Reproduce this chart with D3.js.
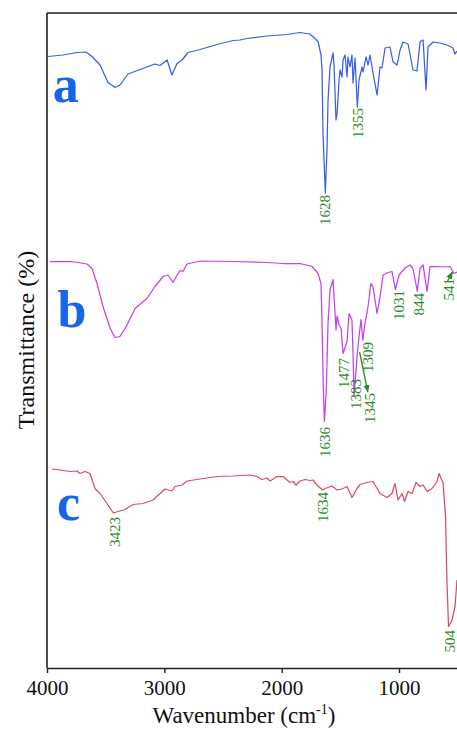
<!DOCTYPE html>
<html><head><meta charset="utf-8">
<script src="https://cdn.jsdelivr.net/npm/d3@7"></script>
<style>html,body{margin:0;padding:0;background:#fff;overflow:hidden}</style>
</head><body><svg id="c" width="457" height="730"></svg>
<script>
// ---- data (wavenumber cm-1, transmittance in arbitrary stacked units) ----
const xTicks = [4000, 3000, 2000, 1000];
const seriesNames = ["a", "b", "c"];
const specA = [[3991,122.3],[3864,122.6],[3744,123.1],[3668,123.2],[3616,122.3],[3548,120.6],[3480,117.1],[3420,116.1],[3378,116.6],[3310,118.8],[3207,119.7],[3080,120.8],[3037,120.5],[2977,121.6],[2935,118.6],[2892,120.9],[2849,121.6],[2798,123.1],[2696,123.7],[2551,124.7],[2415,125.5],[2355,125.6],[2295,125.9],[2125,126.4],[1955,126.7],[1844,127.1],[1759,126.8],[1690,125.3],[1665,122.6],[1656,119.6],[1648,107],[1628,95],[1614,103.6],[1605,113.6],[1588,120.2],[1562,123],[1554,120.6],[1537,109.6],[1528,111],[1511,117.6],[1503,119.6],[1486,118.2],[1477,121.6],[1460,122.6],[1443,118.2],[1435,122.2],[1418,120.2],[1401,122.6],[1392,117],[1375,122],[1355,112.2],[1341,117.6],[1315,120.2],[1307,119.2],[1281,122.2],[1264,120.6],[1247,122.6],[1222,119],[1187,114.6],[1162,120.2],[1145,120],[1119,124],[1077,124.2],[1051,121.2],[1017,120.6],[991,123.6],[966,125.2],[923,124.8],[881,119.6],[847,119.4],[821,125.2],[795,125.6],[770,115.6],[753,124.2],[710,125.2],[651,125],[591,124.6],[540,124],[523,122.8],[506,123.4]];
const specB = [[3974,81.3],[3804,81.3],[3736,81.1],[3659,80.8],[3616,79.9],[3574,76.9],[3523,72.3],[3463,68],[3420,66.1],[3378,66.3],[3318,68.6],[3250,71.9],[3148,73.9],[3080,76.3],[3011,78.3],[2969,78.6],[2926,77.1],[2892,78.6],[2866,79.5],[2841,79.3],[2807,80.8],[2696,81.4],[2415,81.3],[2125,81.1],[1989,80.9],[1844,80.9],[1741,80.3],[1690,78.9],[1665,76.9],[1656,69],[1645,55.6],[1636,49.3],[1620,55.6],[1605,69],[1588,75.6],[1562,77.7],[1554,74.3],[1537,67.6],[1528,70.4],[1511,68.6],[1494,68],[1477,62.9],[1443,65.3],[1426,70.9],[1401,69.6],[1392,62.9],[1383,54.3],[1358,62.3],[1341,66.3],[1324,69.7],[1309,65.6],[1290,68.9],[1264,72.3],[1239,76.9],[1222,76.3],[1187,70.9],[1162,74.3],[1136,78.6],[1094,79.1],[1060,79.3],[1031,75.7],[1000,78.6],[949,80],[906,80.6],[881,79.9],[844,75.3],[821,79.9],[795,80.6],[761,75.3],[736,80.3],[676,80.3],[625,80.2],[565,80.3],[531,78.9],[506,79.2]];
const specC = [[3957,39.8],[3889,39.6],[3804,39.3],[3744,39.4],[3719,38.9],[3676,39.3],[3634,38.9],[3591,35.9],[3548,34.9],[3489,32.9],[3437,31.1],[3423,31.1],[3335,31.7],[3267,32.7],[3182,32.9],[3097,33.6],[2994,35.8],[2935,35.4],[2909,36.3],[2849,36.6],[2807,37.4],[2696,37.8],[2551,38.3],[2415,38.4],[2270,38.6],[2210,38.3],[2168,37.7],[2125,38],[2099,37.4],[2040,38.3],[1989,38.3],[1929,37.1],[1903,37.3],[1878,36.6],[1844,37.4],[1801,37.7],[1759,37.5],[1733,37.6],[1699,36.6],[1652,35.6],[1631,35.9],[1571,36.4],[1528,35.6],[1486,35.8],[1443,36.3],[1401,34.1],[1358,35.9],[1332,36.7],[1273,37.1],[1222,37.3],[1162,34.9],[1102,34.1],[1060,34.9],[1034,36.9],[1009,33.6],[974,34.9],[953,33.3],[923,35.3],[889,34.9],[855,37.1],[821,36.3],[795,36.6],[761,35.3],[719,35.9],[676,37.3],[659,38.9],[625,37],[604,30.3],[591,16.9],[578,8.3],[548,9.6],[523,12.3],[506,17.6]];
// peak labels: text, label wavenumber, label top value
const labelText = ["1628","1355","1636","1477","1383","1345","1309","1031","844","541","3423","1634","504"];
const labelWn   = [1631, 1352, 1631, 1475, 1371, 1247, 1267, 1006, 836, 580, 3420, 1648, 565];
const labelTop  = [94.6, 112, 48.2, 62, 57.8, 55, 65.2, 75.6, 75, 78, 30.2, 35.2, 7.6];
// arrows: [from wn, from T, to wn, to T]
const arrows = [[1336, 63.2, 1266, 55.2], [586, 77.4, 545, 79.2]];
const seriesLetterWn = [3950, 3910, 3915];
const seriesLetterT  = [113.2, 68.2, 29.6];

// ---- drawing ----
const svg = d3.select("#c");
const x = d3.scaleLinear().domain([4000, 506]).range([47, 457]);
const y = d3.scaleLinear().domain([0, 131]).range([668, 13]);
const serif = "Liberation Serif";
const green = "#2a8c2a";

svg.append("defs").append("marker").attr("id","ah").attr("viewBox","0 0 10 10")
  .attr("refX",9).attr("refY",5).attr("markerWidth",6).attr("markerHeight",6).attr("orient","auto")
  .append("path").attr("d","M0,1 L10,5 L0,9 Z").attr("fill",green);

const line = d3.line().x(d => x(d[0])).y(d => y(d[1]));
const colors = ["#3b5ee8", "#c441ee", "#df4a63"];
[specA, specB, specC].forEach((s, i) => {
  svg.append("path").datum(s).attr("d", line).attr("fill","none")
    .attr("stroke", colors[i]).attr("stroke-width", 1.25).attr("stroke-linejoin","round");
});

// frame
svg.append("line").attr("x1", x(4000)).attr("x2", 457).attr("y1", y(131)).attr("y2", y(131))
  .attr("stroke","#222").attr("stroke-width",1.6);
svg.append("line").attr("x1", x(4000)).attr("x2", x(4000)).attr("y1", y(131)).attr("y2", y(0))
  .attr("stroke","#222").attr("stroke-width",1.6);

const ax = svg.append("g").attr("transform", `translate(0,${y(0)})`)
  .call(d3.axisBottom(x).tickValues(xTicks).tickFormat(d3.format("d")).tickSize(5).tickSizeOuter(0).tickPadding(7));
ax.attr("font-family", serif).attr("font-size", 21);
ax.select(".domain").attr("stroke","#222").attr("stroke-width",1.6);
ax.selectAll(".tick line").attr("stroke","#222").attr("stroke-width",1.4);
ax.selectAll(".tick text").attr("font-family", serif).attr("font-size", 21).attr("fill","#111");

// axis titles
const xt = svg.append("text").attr("x", 244).attr("y", 723).attr("text-anchor","middle")
  .attr("font-family", serif).attr("font-size", 23).attr("fill","#111");
xt.append("tspan").text("Wavenumber (cm");
xt.append("tspan").attr("font-size", 14).attr("dy", -9).text("-1");
xt.append("tspan").attr("dy", 9).text(")");
svg.append("text").attr("transform","translate(34,340) rotate(-90)").attr("text-anchor","middle")
  .attr("font-family", serif).attr("font-size", 24).attr("fill","#111").text("Transmittance (%)");

// series letters
seriesNames.forEach((n, i) => {
  svg.append("text").attr("x", x(seriesLetterWn[i])).attr("y", y(seriesLetterT[i]))
    .attr("font-family", serif).attr("font-size", 52).attr("font-weight","bold")
    .attr("fill","#1765e8").text(n);
});

// peak labels
labelText.forEach((t, i) => {
  svg.append("text").attr("transform", `translate(${x(labelWn[i])},${y(labelTop[i])}) rotate(-90)`)
    .attr("text-anchor","end").attr("dy","0.35em")
    .attr("font-family", serif).attr("font-size", 15).attr("fill", green).text(t);
});
arrows.forEach(a => {
  svg.append("line").attr("x1", x(a[0])).attr("y1", y(a[1])).attr("x2", x(a[2])).attr("y2", y(a[3]))
    .attr("stroke", green).attr("stroke-width", 1.3).attr("marker-end","url(#ah)");
});
</script></body></html>
